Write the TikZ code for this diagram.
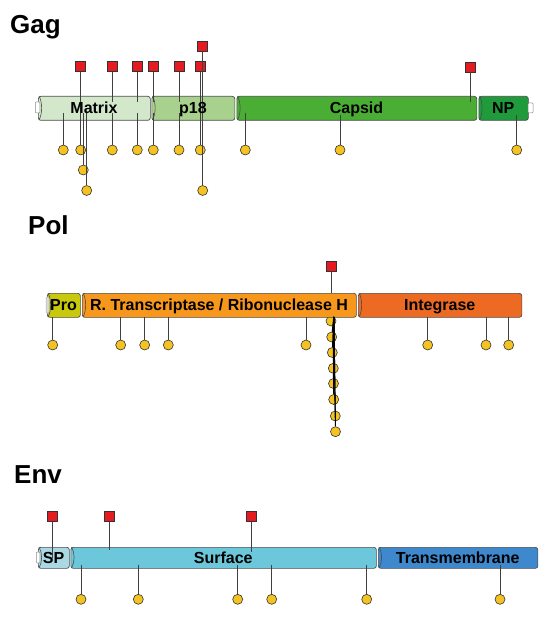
\documentclass[tikz,border=0pt]{standalone}
\usepackage{fontspec}
\setmainfont{Liberation Sans}
\definecolor{cMatrix}{HTML}{D3E8CB}
\definecolor{cPeight}{HTML}{A9D18E}
\definecolor{cCapsid}{HTML}{4BAE34}
\definecolor{cNP}{HTML}{1F9B3B}
\definecolor{cPro}{HTML}{C9C90C}
\definecolor{cRT}{HTML}{F7981D}
\definecolor{cInt}{HTML}{EC6A21}
\definecolor{cSP}{HTML}{AAD9E3}
\definecolor{cSurf}{HTML}{6CC7DB}
\definecolor{cTM}{HTML}{3E88CD}
\definecolor{sqred}{HTML}{E41B20}
\definecolor{dotgold}{HTML}{F4C321}
\newcommand\segm[7]{%
  \node[seg, fill=#6, minimum width={(#3-#2)*1pt}, minimum height={(#5-#4)*1pt}] (#1) at (#2,#4) {};
  \draw[rim] (#2+1,#4) .. controls (#2+4.5,#4+6) and (#2+4.5,#5-6) .. (#2+1,#5);
}
\newcommand\seglab[6]{%
  \node[lab] (#1) at ({(#2+#3)/2},{(#4+#5)/2+5.5}) {#6};
}
\begin{document}
\begin{tikzpicture}[x=1pt,y=-1pt,
  seg/.style={draw=black!70, line width=0.7pt, rounded corners=2.5pt, inner sep=0pt, anchor=north west},
  rim/.style={draw=black!70, line width=0.6pt},
  endcap/.style={draw=black!45, fill=white, line width=0.5pt, rounded corners=1pt, inner sep=0pt},
  lab/.style={font=\bfseries\fontsize{16}{18}\selectfont, anchor=base, inner sep=0pt},
  ttl/.style={font=\bfseries\fontsize{26}{28}\selectfont, anchor=base west, inner sep=0pt},
  sqr/.style={draw=black!80, fill=sqred, line width=0.6pt, minimum size=10pt, inner sep=0pt},
  dot/.style={circle, draw=black!80, fill=dotgold, line width=0.6pt, minimum size=10pt, inner sep=0pt},
  stem/.style={draw=black!75, line width=0.8pt},
  bundle/.style={draw=black, line width=1.1pt},
]
\useasboundingbox (0,0) rectangle (550,617);

% ---------------- titles
\node[ttl] (tgag) at (10,33.5) {Gag};
\node[ttl] (tpol) at (28,234) {Pol};
\node[ttl] (tenv) at (14,483) {Env};

% ---------------- Gag
\segm{matrix}{38}{150}{96}{120}{cMatrix}{Matrix}
\segm{ptwo}{151.5}{234.5}{96}{120}{cPeight}{p18}
\segm{capsid}{236.5}{476.5}{96}{120}{cCapsid}{Capsid}
\segm{np}{478.5}{528}{96}{120}{cNP}{NP}
\node[endcap, minimum width=4.5pt, minimum height=11pt] (gcapl) at (37.5,107.5) {};
\node[endcap, minimum width=5pt, minimum height=10pt] (gcapr) at (530.5,108) {};

\node[sqr] (gs1) at (80.7,66.5) {};
\node[sqr] (gs2) at (112.3,66.5) {};
\node[sqr] (gs3) at (137.3,66.5) {};
\node[sqr] (gs4) at (153.3,66.5) {};
\node[sqr] (gs5) at (179,66.5) {};
\node[sqr] (gs6) at (200.3,66.5) {};
\node[sqr] (gs7) at (470.7,67) {};
\node[sqr] (gs8) at (202.7,46) {};

\node[dot] (gc1) at (63.3,150) {};
\node[dot] (gc2) at (80.7,150) {};
\node[dot] (gc3) at (112.3,150) {};
\node[dot] (gc4) at (137.3,150) {};
\node[dot] (gc5) at (153.3,150) {};
\node[dot] (gc6) at (179,150) {};
\node[dot] (gc7) at (200.3,150) {};
\node[dot] (gc8) at (245.3,150) {};
\node[dot] (gc9) at (340,150) {};
\node[dot] (gc10) at (516.7,150) {};
\node[dot] (gc11) at (83.3,170) {};
\node[dot] (gc12) at (86.7,190.5) {};
\node[dot] (gc13) at (202.7,190.5) {};

\coordinate (gs2e) at (112.3,102);
\coordinate (gs3e) at (137.3,102);
\coordinate (gs4e) at (153.3,102);
\coordinate (gs5e) at (179,102);
\coordinate (gs7e) at (470.7,102);
\coordinate (gc1s) at (63.3,113);
\coordinate (gc3s) at (112.3,113);
\coordinate (gc4s) at (137.3,113);
\coordinate (gc5s) at (153.3,113);
\coordinate (gc6s) at (179,113);
\coordinate (gc8s) at (245.3,113);
\coordinate (gc9s) at (340,115);
\coordinate (gc10s) at (516.7,115);
\coordinate (gc11s) at (83.3,113);
\coordinate (gc12s) at (86.7,113);

\draw[stem] (gs1) -- (gc2);
\draw[stem] (gs2) -- (gs2e);
\draw[stem] (gs3) -- (gs3e);
\draw[stem] (gs4) -- (gs4e);
\draw[stem] (gs5) -- (gs5e);
\draw[stem] (gs6) -- (gc7);
\draw[stem] (gs7) -- (gs7e);
\draw[stem] (gs8) -- (gc13);
\draw[stem] (gc1s) -- (gc1);
\draw[stem] (gc3s) -- (gc3);
\draw[stem] (gc4s) -- (gc4);
\draw[stem] (gc5s) -- (gc5);
\draw[stem] (gc6s) -- (gc6);
\draw[stem] (gc8s) -- (gc8);
\draw[stem] (gc9s) -- (gc9);
\draw[stem] (gc10s) -- (gc10);
\draw[stem] (gc11s) -- (gc11);
\draw[stem] (gc12s) -- (gc12);

\seglab{lmatrix}{38}{150}{96}{120}{Matrix}
\seglab{lptwo}{151.5}{234.5}{96}{120}{p18}
\seglab{lcapsid}{236.5}{476.5}{96}{120}{Capsid}
\seglab{lnp}{478.5}{528}{96}{120}{NP}

% ---------------- Pol
\node[dot] (pk1) at (331,321) {};
\node[dot] (pk2) at (331.7,337) {};
\node[dot] (pk3) at (332.3,352.5) {};
\node[dot] (pk4) at (333.3,368.3) {};
\node[dot] (pk5) at (333.5,383.5) {};
\node[dot] (pk6) at (333.7,399.5) {};
\node[dot] (pk7) at (335.3,416) {};
\node[dot] (pk8) at (335.5,431.7) {};

\segm{pro}{47}{80}{293}{317}{cPro}{Pro}
\segm{rt}{82}{356}{293}{317}{cRT}{R}
\segm{integ}{358}{521.5}{293}{317}{cInt}{Integrase}
\node[endcap, draw=black!30, fill=black!15, minimum width=3pt, minimum height=16pt] (pcapl) at (47.5,305) {};

\node[sqr] (ps1) at (331.7,266) {};
\coordinate (ps1e) at (331.7,293);
\draw[stem] (ps1) -- (ps1e);

\node[dot] (pc1) at (52.7,345) {};
\node[dot] (pc2) at (120.7,345) {};
\node[dot] (pc3) at (144.7,345) {};
\node[dot] (pc4) at (168.3,345) {};
\node[dot] (pc5) at (306,345) {};
\node[dot] (pc6) at (427.7,345) {};
\node[dot] (pc7) at (486,345) {};
\node[dot] (pc8) at (508.7,345) {};
\foreach \n/\x in {1/52.7,2/120.7,3/144.7,4/168.3,5/306,6/427.7,7/486,8/508.7}{
  \coordinate (pc\n s) at (\x,317);
  \draw[stem] (pc\n s) -- (pc\n);
}
\coordinate (pkb) at (333.8,317);
\foreach \n in {1,...,8}{
  \draw[bundle] (pkb) -- (pk\n);
}

\seglab{lpro}{47}{80}{293}{317}{Pro}
\seglab{lrt}{82}{356}{293}{317}{R. Transcriptase / Ribonuclease H}
\seglab{linteg}{358}{521.5}{293}{317}{Integrase}

% ---------------- Env
\segm{sp}{38}{69}{547}{568}{cSP}{SP}
\segm{surf}{70.5}{376}{547}{568}{cSurf}{Surface}
\segm{tm}{378}{537.5}{547}{568}{cTM}{Transmembrane}
\node[endcap, minimum width=3.5pt, minimum height=11pt] (ecapl) at (38,557.5) {};

\node[sqr] (es1) at (52.3,516.5) {};
\node[sqr] (es2) at (109,516.5) {};
\node[sqr] (es3) at (251.3,516.5) {};
\coordinate (es1e) at (52.3,558);
\coordinate (es2e) at (109,550);
\coordinate (es3e) at (251.3,551.7);
\draw[stem] (es1) -- (es1e);
\draw[stem] (es2) -- (es2e);
\draw[stem] (es3) -- (es3e);

\foreach \n/\x in {1/81,2/138.3,3/237.7,4/271.7,5/366.7,6/500}{
  \node[dot] (ec\n) at (\x,599.3) {};
  \coordinate (ec\n s) at (\x,564.5);
  \draw[stem] (ec\n s) -- (ec\n);
}

\seglab{lsp}{38}{69}{547}{568}{SP}
\seglab{lsurf}{70.5}{376}{547}{568}{Surface}
\seglab{ltm}{378}{537.5}{547}{568}{Transmembrane}
\end{tikzpicture}
\end{document}
